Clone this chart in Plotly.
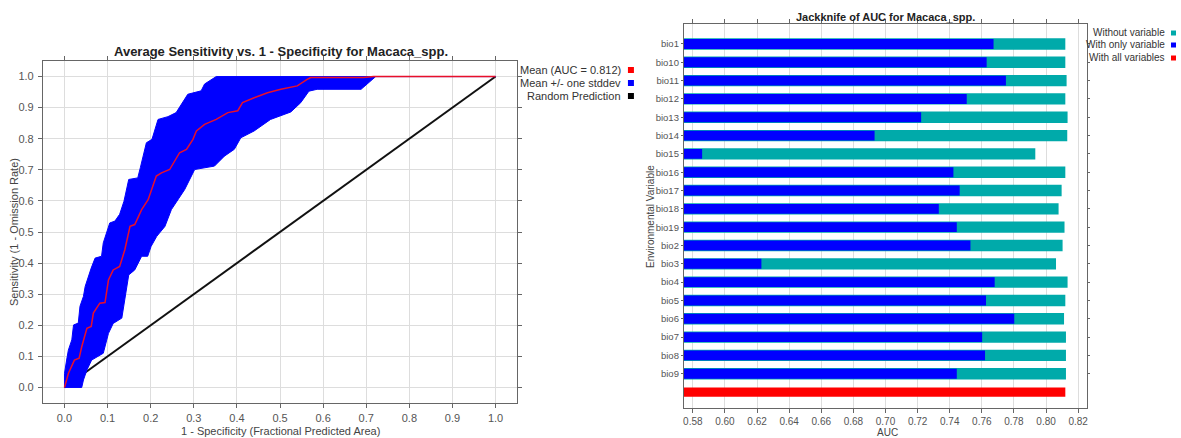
import plotly.graph_objects as go

# ---------------- Left chart data (ROC) ----------------
mean_x = [0.0, 0.009, 0.023, 0.034, 0.040, 0.052, 0.062, 0.067, 0.082, 0.094, 0.102, 0.113, 0.128,
          0.140, 0.152, 0.163, 0.179, 0.194, 0.213, 0.225, 0.244, 0.256, 0.267, 0.283, 0.298, 0.306,
          0.325, 0.352, 0.379, 0.402, 0.413, 0.440, 0.471, 0.502, 0.540, 0.563, 0.571, 0.694, 0.717, 1.0]
mean_y = [0.0, 0.045, 0.088, 0.094, 0.131, 0.190, 0.196, 0.239, 0.271, 0.273, 0.346, 0.378, 0.389,
          0.443, 0.518, 0.524, 0.572, 0.604, 0.680, 0.690, 0.701, 0.728, 0.755, 0.766, 0.798, 0.825,
          0.846, 0.862, 0.884, 0.890, 0.916, 0.932, 0.948, 0.959, 0.970, 0.991, 0.997, 0.997, 1.0, 1.0]

upper_x = [0.0, 0.0, 0.005, 0.009, 0.017, 0.021, 0.032, 0.036, 0.044, 0.048, 0.062, 0.071, 0.086,
           0.090, 0.105, 0.117, 0.128, 0.138, 0.149, 0.170, 0.176, 0.190, 0.203, 0.217, 0.240, 0.259,
           0.286, 0.317, 0.325, 0.352, 1.0]
upper_y = [0.0, 0.045, 0.088, 0.120, 0.153, 0.201, 0.207, 0.261, 0.293, 0.325, 0.384, 0.416, 0.422,
           0.465, 0.529, 0.535, 0.557, 0.599, 0.669, 0.674, 0.707, 0.787, 0.798, 0.862, 0.871, 0.884,
           0.943, 0.954, 0.976, 1.0, 1.0]

lower_x = [0.0, 0.040, 0.044, 0.052, 0.063, 0.090, 0.102, 0.113, 0.133, 0.139, 0.149, 0.163, 0.179,
           0.193, 0.201, 0.214, 0.233, 0.248, 0.264, 0.279, 0.302, 0.348, 0.371, 0.394, 0.409, 0.440,
           0.478, 0.525, 0.548, 0.567, 0.586, 0.688, 0.722, 1.0]
lower_y = [0.0, 0.0, 0.024, 0.056, 0.088, 0.110, 0.174, 0.206, 0.223, 0.282, 0.362, 0.378, 0.422,
           0.422, 0.454, 0.486, 0.518, 0.572, 0.604, 0.637, 0.701, 0.712, 0.744, 0.766, 0.803, 0.825,
           0.862, 0.886, 0.916, 0.953, 0.959, 0.959, 1.0, 1.0]

random_x = [0.0, 1.0]
random_y = [0.0, 1.0]

# ---------------- Right chart data (Jackknife) ----------------
variables = ["bio1", "bio10", "bio11", "bio12", "bio13", "bio14", "bio15", "bio16", "bio17", "bio18",
             "bio19", "bio2", "bio3", "bio4", "bio5", "bio6", "bio7", "bio8", "bio9"]
without_var = [0.812, 0.812, 0.8128, 0.812, 0.8134, 0.8132, 0.7933, 0.812, 0.8097, 0.8078,
               0.8115, 0.8103, 0.8062, 0.8134, 0.812, 0.8112, 0.8124, 0.8124, 0.8124]
with_only = [0.7673, 0.763, 0.775, 0.7506, 0.7222, 0.6932, 0.5858, 0.7423, 0.7462, 0.7332,
             0.7444, 0.7529, 0.6227, 0.768, 0.7626, 0.7802, 0.7602, 0.762, 0.7444]
all_vars = 0.812

W, H = 1181, 438


def px(x):
    return x / W


def py(y):
    return 1 - y / H


fig = go.Figure()

# Left chart
fig.add_trace(go.Scatter(x=random_x, y=random_y, mode="lines",
                         line=dict(color="#111111", width=2), xaxis="x", yaxis="y", showlegend=False))
band_x = upper_x + lower_x[::-1]
band_y = upper_y + lower_y[::-1]
fig.add_trace(go.Scatter(x=band_x, y=band_y, mode="lines", fill="toself", fillcolor="#0000ff",
                         line=dict(color="#0000ff", width=1), xaxis="x", yaxis="y", showlegend=False))
fig.add_trace(go.Scatter(x=mean_x, y=mean_y, mode="lines",
                         line=dict(color="#e8102a", width=1.5), xaxis="x", yaxis="y", showlegend=False))

# Right chart
pos = list(range(len(variables)))
fig.add_trace(go.Bar(y=pos, x=without_var, orientation="h", width=0.62, marker=dict(color="#00aaaa", line=dict(width=0)),
                     xaxis="x2", yaxis="y2", showlegend=False))
fig.add_trace(go.Bar(y=pos, x=with_only, orientation="h", width=0.54, marker=dict(color="#0000ff", line=dict(width=0)),
                     xaxis="x2", yaxis="y2", showlegend=False))
fig.add_trace(go.Bar(y=[len(variables)], x=[all_vars], orientation="h", width=0.5,
                     marker=dict(color="#ff0000", line=dict(width=0)),
                     xaxis="x2", yaxis="y2", showlegend=False))

font_f = "Liberation Sans, Arial, sans-serif"
tickfont = dict(family=font_f, size=11, color="#555555")
tickfont2 = dict(family=font_f, size=10, color="#555555")
tickfont3 = dict(family=font_f, size=9.5, color="#555555")

common = dict(showline=True, linecolor="#666666", linewidth=1, mirror="ticks", ticks="outside",
              ticklen=4, tickcolor="#666666", showgrid=True, gridcolor="#dddddd", gridwidth=1,
              zeroline=False)

fig.update_layout(
    width=W, height=H, autosize=False,
    margin=dict(l=0, r=0, t=0, b=0),
    paper_bgcolor="white", plot_bgcolor="white",
    barmode="overlay",
    xaxis=dict(domain=[px(42), px(517)], range=[-0.05, 1.05], tickvals=[i / 10 for i in range(11)],
               ticktext=[f"{i / 10:.1f}" for i in range(11)], tickfont=tickfont, anchor="y",
               ticklabelstandoff=1, **common),
    yaxis=dict(domain=[py(403), py(61)], range=[-0.05, 1.05], tickvals=[i / 10 for i in range(11)],
               ticktext=[f"{i / 10:.1f}" for i in range(11)], tickfont=tickfont, anchor="x",
               ticklabelstandoff=2, **common),
    xaxis2=dict(domain=[px(684), px(1088)], range=[0.5744, 0.8256],
                tickvals=[0.58 + 0.02 * i for i in range(13)],
                ticktext=[f"{0.58 + 0.02 * i:.2f}" for i in range(13)], tickfont=tickfont2, anchor="y2", **common),
    yaxis2=dict(domain=[py(408), py(24)], range=[19.87, -1.09], tickvals=pos, ticktext=variables,
                tickfont=tickfont3, anchor="x2",
                **{**common, "showgrid": False, "ticklen": 2}),
)

txt = "#333333"
annotations = [
    dict(x=px(280), y=py(51), text="<b>Average Sensitivity vs. 1 - Specificity for Macaca_spp.</b>",
         font=dict(family=font_f, size=13, color="#222222")),
    dict(x=px(280), y=py(431), text="1 - Specificity (Fractional Predicted Area)",
         font=dict(family=font_f, size=11, color="#444444")),
    dict(x=px(13), y=py(232), text="Sensitivity (1 - Omission Rate)", textangle=-90,
         font=dict(family=font_f, size=11, color="#444444")),
    dict(x=px(886), y=py(17), text="<b>Jackknife of AUC for Macaca_spp.</b>",
         font=dict(family=font_f, size=11, color="#222222")),
    dict(x=px(888), y=py(432), text="AUC", font=dict(family=font_f, size=10, color="#444444")),
    dict(x=px(650), y=py(216), text="Environmental Variable", textangle=-90,
         font=dict(family=font_f, size=10, color="#444444")),
]
for a in annotations:
    a.update(xref="paper", yref="paper", showarrow=False, xanchor="center", yanchor="middle")

legend_left = [("Mean (AUC = 0.812)", "#ff0000", 70), ("Mean +/- one stddev", "#0000ff", 83),
               ("Random Prediction", "#000000", 96)]
legend_right = [("Without variable", "#00aaaa", 33), ("With only variable", "#0000ff", 45),
                ("With all variables", "#ff0000", 58)]
shapes = []
for label, col, yy in legend_left:
    annotations.append(dict(x=px(623), y=py(yy), text=label, xref="paper", yref="paper", showarrow=False,
                            xanchor="right", yanchor="middle",
                            font=dict(family=font_f, size=11, color=txt)))
    shapes.append(dict(type="rect", xref="paper", yref="paper", x0=px(628), x1=px(634),
                       y0=py(yy + 3), y1=py(yy - 3), fillcolor=col, line=dict(width=0)))
for label, col, yy in legend_right:
    annotations.append(dict(x=px(1168), y=py(yy), text=label, xref="paper", yref="paper", showarrow=False,
                            xanchor="right", yanchor="middle",
                            font=dict(family=font_f, size=10, color=txt)))
    shapes.append(dict(type="rect", xref="paper", yref="paper", x0=px(1172), x1=px(1177),
                       y0=py(yy + 2.5), y1=py(yy - 2.5), fillcolor=col, line=dict(width=0)))

fig.update_layout(annotations=annotations, shapes=shapes)
fig.write_html("out.html", config={"displayModeBar": False},
               post_script="document.body.style.margin='0';document.body.style.overflow='hidden';")
